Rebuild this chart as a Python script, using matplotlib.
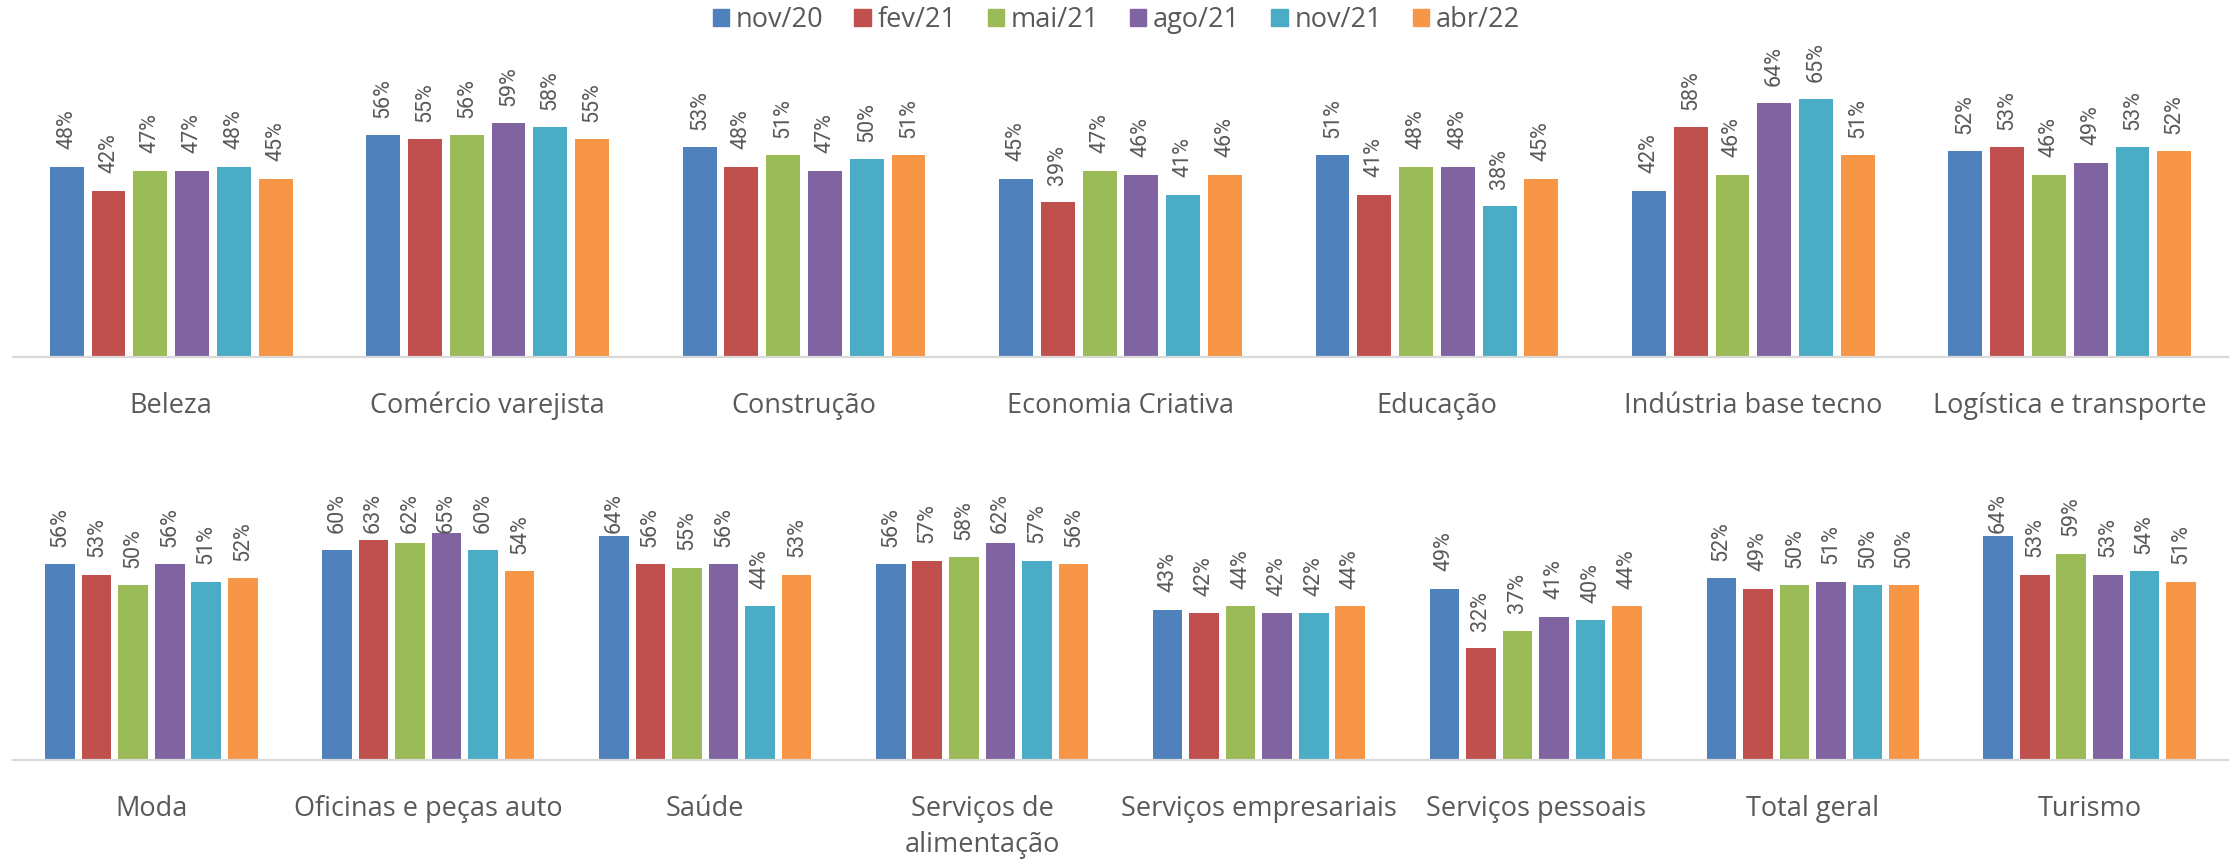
import matplotlib
matplotlib.use("Agg")
import numpy as np
import matplotlib.pyplot as plt
from matplotlib.patches import Patch

plt.rcParams['font.family'] = ['Open Sans', 'DejaVu Sans']

series = ["nov/20", "fev/21", "mai/21", "ago/21", "nov/21", "abr/22"]
colors = ["#4F81BD", "#C0504D", "#9BBB59", "#8064A2", "#4BACC6", "#F79646"]

cats_top = ["Beleza", "Comércio varejista", "Construção", "Economia Criativa",
            "Educação", "Indústria base tecno", "Logística e transporte"]
vals_top = [
    [48, 42, 47, 47, 48, 45],
    [56, 55, 56, 59, 58, 55],
    [53, 48, 51, 47, 50, 51],
    [45, 39, 47, 46, 41, 46],
    [51, 41, 48, 48, 38, 45],
    [42, 58, 46, 64, 65, 51],
    [52, 53, 46, 49, 53, 52],
]

cats_bot = ["Moda", "Oficinas e peças auto", "Saúde", "Serviços de\nalimentação",
            "Serviços empresariais", "Serviços pessoais", "Total geral", "Turismo"]
vals_bot = [
    [56, 53, 50, 56, 51, 52],
    [60, 63, 62, 65, 60, 54],
    [64, 56, 55, 56, 44, 53],
    [56, 57, 58, 62, 57, 56],
    [43, 42, 44, 42, 42, 44],
    [49, 32, 37, 41, 40, 44],
    [52, 49, 50, 51, 50, 50],
    [64, 53, 59, 53, 54, 51],
]

W, H = 2233, 861
fig = plt.figure(figsize=(W / 100, H / 100), dpi=100)
TXT = "#595959"


def draw_row(ax, cats, vals):
    v = np.array(vals)
    x = np.arange(len(cats))
    step, bw = 0.132, 0.107
    labels = []
    for j, s in enumerate(series):
        xs = x + (j - 2.5) * step
        bars = ax.bar(xs, v[:, j], width=bw, color=colors[j], label=s, zorder=2)
        for b, val in zip(bars, v[:, j]):
            t = ax.annotate(f"{val}%", (b.get_x() + b.get_width() / 2, b.get_height()),
                            xytext=(0, 12.5), textcoords="offset points", rotation=90,
                            ha="center", va="bottom", fontsize=15.5, color=TXT,
                            family=["Roboto", "DejaVu Sans"])
            labels.append(t)
    ax.set_xlim(-0.5, len(cats) - 0.5)
    ax.set_ylim(0, 80)
    ax.set_xticks(x)
    ax.set_xticklabels(cats, fontsize=19.5, color=TXT, linespacing=1.4)
    ax.tick_params(axis="x", length=0, pad=25)
    ax.set_yticks([])
    for sp in ("top", "right", "left"):
        ax.spines[sp].set_visible(False)
    ax.spines["bottom"].set_color("#D9D9D9")
    ax.spines["bottom"].set_linewidth(1.6)
    ax.patch.set_alpha(0)
    return labels


def clamp_labels(ax, labels, top_px):
    # keep value labels inside the plot area like Excel does
    fig.canvas.draw()
    r = fig.canvas.get_renderer()
    lim_disp = H - top_px
    lim_data = ax.transData.inverted().transform((0, lim_disp))[1]
    for t in labels:
        bb = t.get_window_extent(r)
        if bb.y1 > lim_disp:
            t.xy = (t.xy[0], lim_data)
            t.set_va("top")
            t.set_position((0, 0))


left, right = 13 / W, 2228 / W
ax1 = fig.add_axes([left, 1 - 357 / H, right - left, 317 / H])
lab1 = draw_row(ax1, cats_top, vals_top)
ax2 = fig.add_axes([left, 1 - 760 / H, right - left, 280 / H])
lab2 = draw_row(ax2, cats_bot, vals_bot)
clamp_labels(ax1, lab1, 36)
clamp_labels(ax2, lab2, 493)

handles = [Patch(color=c) for c in colors]
fig.legend(handles, series, loc="center", bbox_to_anchor=(0.5, 1 - 20 / H), ncol=6,
           frameon=False, fontsize=19.5, labelcolor=TXT, handlelength=0.6,
           handleheight=0.6, handletextpad=0.25, columnspacing=1.15)

fig.savefig("out.png", dpi=100)
